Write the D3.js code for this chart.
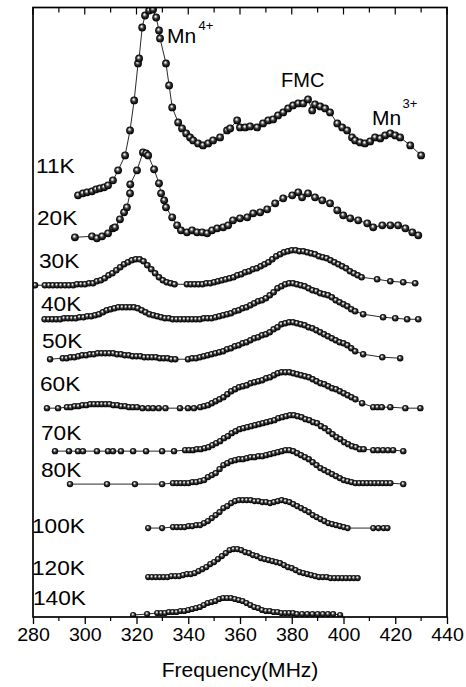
<!DOCTYPE html>
<html>
<head>
<meta charset="utf-8">
<script src="https://cdn.jsdelivr.net/npm/d3@7/dist/d3.min.js"></script>
<style>
body { margin: 0; background: #fff; }
svg { display: block; font-family: "Liberation Sans", Arial, sans-serif; }
</style>
</head>
<body>
<svg width="466" height="687"></svg>
<script>
const width = 466;
const height = 687;
const svg = d3.select("svg");

// temperatures, stacking offsets (a.u.) and spectra [frequency MHz, intensity a.u.]
const temps = ["11K", "20K", "30K", "40K", "50K", "60K", "70K", "80K", "100K", "120K", "140K"];
const offsets = [4.20, 3.80, 3.32, 2.98, 2.58, 2.09, 1.66, 1.33, 0.89, 0.39, 0.02];

const k11 = [[297.4,0.02],[299.3,0.04],[300.9,0.05],[302.8,0.06],[304.4,0.08],[305.9,0.09],[307.5,0.10],[309.0,0.12],[310.9,0.17],[312.9,0.27],[315.6,0.42],[317.5,0.67],[319.1,0.97],[320.6,1.34],[321.0,1.39],[322.2,1.70],[323.3,1.82],[324.9,1.87],[326.4,1.88],[327.6,1.80],[328.7,1.67],[329.1,1.59],[331.4,1.34],[332.6,1.12],[333.8,0.90],[336.1,0.75],[337.6,0.69],[339.2,0.64],[340.7,0.60],[341.9,0.57],[343.8,0.54],[345.7,0.52],[347.7,0.54],[349.6,0.57],[352.3,0.60],[355.0,0.67],[356.2,0.69],[358.9,0.77],[360.0,0.70],[362.0,0.70],[363.9,0.71],[366.6,0.70],[368.9,0.74],[370.9,0.77],[372.8,0.78],[374.7,0.82],[376.7,0.85],[378.6,0.89],[380.5,0.92],[382.5,0.94],[384.4,0.94],[386.3,0.98],[387.9,0.87],[389.0,0.93],[391.0,0.91],[392.9,0.89],[394.8,0.85],[397.6,0.74],[399.5,0.70],[401.4,0.67],[403.3,0.60],[404.5,0.57],[406.4,0.55],[408.3,0.54],[410.3,0.56],[412.2,0.60],[414.2,0.59],[416.1,0.62],[418.1,0.64],[420.0,0.62],[421.9,0.60],[425.8,0.52],[430.0,0.42]];

const k20 = [[296.2,0.00],[302.8,0.01],[304.7,-0.01],[306.7,0.01],[309.0,0.04],[310.9,0.09],[311.7,0.10],[313.6,0.18],[315.2,0.25],[316.3,0.30],[317.5,0.44],[317.6,0.53],[320.2,0.67],[322.5,0.85],[323.7,0.84],[324.5,0.82],[326.8,0.68],[328.7,0.54],[329.5,0.44],[330.7,0.37],[331.4,0.30],[333.8,0.20],[335.7,0.12],[337.2,0.07],[339.5,0.05],[341.5,0.07],[343.4,0.05],[345.4,0.05],[347.3,0.04],[349.2,0.07],[351.2,0.09],[353.5,0.10],[355.4,0.12],[357.3,0.17],[360.0,0.19],[362.8,0.20],[365.1,0.24],[367.8,0.25],[370.5,0.28],[373.6,0.34],[376.7,0.39],[380.2,0.42],[382.5,0.45],[384.0,0.40],[386.3,0.44],[389.0,0.40],[391.8,0.37],[394.8,0.34],[397.6,0.27],[399.9,0.22],[402.6,0.19],[405.7,0.17],[409.2,0.14],[411.5,0.10],[415.0,0.12],[418.1,0.12],[421.1,0.12],[423.9,0.09],[426.6,0.05],[428.9,0.02]];

const k30 = [[280.8,0],[284.6,0],[286.2,0],[287.7,0],[289.3,0],[290.8,0],[292.4,0],[293.9,0],[295.5,0],[297.0,0.01],[298.6,0.01],[300.1,0.01],[301.7,0.02],[303.2,0.02],[304.7,0.04],[306.2,0.05],[307.7,0.07],[309.2,0.10],[310.7,0.12],[312.2,0.15],[313.7,0.18],[315.2,0.21],[316.7,0.23],[318.2,0.25],[319.7,0.26],[321.2,0.26],[322.7,0.24],[324.2,0.20],[325.7,0.16],[327.2,0.12],[328.7,0.08],[330.2,0.05],[331.7,0.03],[333.2,0.02],[334.7,0.01],[339.5,0.01],[341.0,0.01],[342.5,0.01],[344.0,0.01],[345.5,0.01],[347.0,0.02],[348.5,0.02],[350.0,0.03],[351.5,0.04],[353.0,0.05],[354.5,0.06],[356.0,0.07],[357.5,0.08],[359.0,0.10],[360.5,0.11],[362.0,0.13],[363.5,0.14],[365.0,0.16],[366.5,0.17],[368.0,0.19],[369.5,0.21],[371.0,0.23],[372.5,0.26],[374.0,0.29],[375.5,0.31],[377.0,0.33],[378.5,0.34],[380.0,0.35],[381.5,0.35],[383.0,0.34],[384.5,0.34],[386.0,0.33],[387.5,0.32],[389.0,0.31],[390.5,0.29],[392.0,0.28],[393.5,0.27],[395.0,0.25],[396.5,0.23],[398.0,0.21],[399.5,0.19],[401.0,0.17],[402.5,0.14],[404.0,0.12],[405.5,0.10],[407.0,0.08],[413.0,0.06],[418.1,0.04],[423.1,0.03],[427.7,0.02]];

const k40 = [[284.5,0],[286.0,0],[287.5,0],[289.0,0],[290.5,0],[292.0,0.01],[293.5,0.01],[295.0,0.01],[296.5,0.01],[298.0,0.02],[299.5,0.02],[301.0,0.03],[302.5,0.03],[304.0,0.04],[305.5,0.05],[307.0,0.07],[308.5,0.09],[310.0,0.10],[311.5,0.11],[313.0,0.12],[314.5,0.12],[316.0,0.12],[317.5,0.12],[319.0,0.12],[320.5,0.11],[322.0,0.09],[323.5,0.07],[325.0,0.05],[326.5,0.04],[328.0,0.03],[329.5,0.02],[331.0,0.01],[332.5,0.01],[334.0,0],[335.5,0],[337.0,0],[338.5,0],[340.0,0],[341.5,0],[343.0,0],[344.5,0],[346.0,0.01],[347.5,0.01],[349.0,0.01],[350.5,0.02],[352.0,0.03],[353.5,0.04],[355.0,0.05],[356.5,0.06],[358.0,0.08],[359.5,0.09],[361.0,0.11],[362.5,0.12],[364.0,0.14],[365.5,0.16],[367.0,0.18],[368.5,0.19],[370.0,0.21],[371.5,0.24],[373.0,0.27],[374.5,0.31],[376.0,0.33],[377.5,0.35],[379.0,0.36],[380.5,0.36],[382.0,0.35],[383.5,0.34],[385.0,0.33],[386.5,0.31],[388.0,0.29],[389.5,0.28],[391.0,0.26],[392.5,0.25],[394.0,0.24],[395.5,0.22],[397.0,0.19],[398.5,0.17],[400.0,0.15],[401.5,0.13],[403.0,0.10],[404.5,0.08],[407.6,0.05],[415.3,0.02],[420.0,0.01],[424.6,0],[428.9,0]];

const k50 = [[286.6,0],[291.5,0.01],[293.0,0.01],[294.5,0.02],[296.0,0.02],[297.5,0.03],[299.0,0.04],[300.5,0.04],[302.0,0.05],[303.5,0.05],[305.0,0.06],[306.5,0.06],[308.0,0.06],[309.5,0.06],[311.0,0.06],[312.5,0.05],[314.0,0.05],[315.5,0.04],[317.0,0.04],[318.5,0.03],[320.0,0.03],[321.5,0.03],[323.0,0.02],[324.5,0.02],[326.0,0.02],[327.5,0.02],[329.0,0.01],[330.5,0.01],[332.0,0.01],[333.5,0],[335.0,0],[339.9,0],[341.5,0.01],[343.0,0.01],[344.5,0.02],[346.0,0.03],[347.5,0.04],[349.0,0.05],[350.5,0.06],[352.0,0.07],[353.5,0.08],[355.0,0.10],[356.5,0.11],[358.0,0.13],[359.5,0.14],[361.0,0.16],[362.5,0.17],[364.0,0.19],[365.5,0.21],[367.0,0.22],[368.5,0.24],[370.0,0.25],[371.5,0.27],[373.0,0.30],[374.5,0.32],[376.0,0.35],[377.5,0.36],[379.0,0.37],[380.5,0.37],[382.0,0.36],[383.5,0.35],[385.0,0.34],[386.5,0.32],[388.0,0.31],[389.5,0.29],[391.0,0.27],[392.5,0.25],[394.0,0.23],[395.5,0.21],[397.0,0.19],[398.5,0.17],[400.0,0.16],[401.5,0.14],[403.0,0.11],[404.5,0.08],[407.6,0.05],[415.0,0.02],[421.9,0.01]];

const k60 = [[285.4,0],[289.7,0],[293.1,0.01],[294.6,0.01],[296.1,0.02],[297.6,0.02],[299.1,0.03],[300.6,0.03],[302.1,0.04],[303.6,0.04],[305.1,0.04],[306.6,0.04],[308.1,0.04],[309.6,0.04],[311.1,0.03],[312.6,0.03],[314.1,0.02],[315.6,0.02],[317.1,0.01],[318.6,0.01],[320.2,0.01],[322.3,0],[324.5,0],[326.4,0],[328.6,0],[331.2,0],[336.8,0],[339.9,0],[342.2,0],[344.6,0.01],[346.1,0.02],[347.6,0.03],[349.1,0.05],[350.6,0.07],[352.1,0.09],[353.6,0.11],[355.1,0.14],[356.6,0.17],[358.1,0.19],[359.6,0.21],[361.1,0.22],[362.6,0.23],[364.1,0.25],[365.6,0.26],[367.1,0.27],[368.6,0.28],[370.1,0.30],[371.6,0.31],[373.1,0.33],[374.6,0.35],[376.1,0.36],[377.6,0.36],[379.1,0.36],[380.6,0.35],[382.1,0.34],[383.6,0.33],[385.1,0.32],[386.6,0.31],[388.1,0.29],[389.6,0.27],[391.1,0.25],[392.6,0.24],[394.1,0.22],[395.6,0.20],[397.1,0.19],[398.6,0.17],[400.1,0.15],[401.6,0.13],[403.1,0.11],[404.6,0.09],[407.2,0.05],[411.5,0.01],[413.1,0.01],[414.8,0.01],[418.1,0.01],[423.9,0],[429.7,0]];

const k70 = [[288.5,0],[293.9,0],[297.4,0],[299.3,0],[304.7,0],[309.0,0],[310.9,0],[314.0,0],[318.7,0],[323.7,0],[329.9,0],[334.5,0],[338.8,0.01],[340.3,0.01],[341.8,0.01],[343.3,0.02],[344.8,0.02],[346.3,0.03],[347.8,0.04],[349.3,0.06],[350.8,0.08],[352.3,0.10],[353.8,0.13],[355.3,0.15],[356.8,0.18],[358.3,0.20],[359.8,0.22],[361.3,0.23],[362.8,0.24],[364.3,0.25],[365.8,0.26],[367.3,0.27],[368.8,0.28],[370.3,0.29],[371.8,0.30],[373.3,0.31],[374.8,0.33],[376.3,0.34],[377.8,0.35],[379.3,0.36],[380.8,0.36],[382.3,0.35],[383.8,0.34],[385.3,0.32],[386.8,0.31],[388.3,0.29],[389.8,0.28],[391.3,0.25],[392.8,0.23],[394.3,0.20],[395.8,0.17],[397.3,0.14],[398.8,0.12],[400.3,0.09],[401.8,0.07],[403.3,0.05],[404.8,0.04],[406.3,0.02],[407.8,0.02],[411.5,0.01],[413.3,0.01],[415.3,0.01],[417.2,0.01],[419.2,0.01],[423.1,0]];

const k80 = [[294.3,0],[308.6,0],[319.4,0],[329.9,0],[334.1,0.01],[335.6,0.01],[337.1,0.01],[338.6,0.01],[340.1,0.01],[341.6,0.02],[343.1,0.02],[344.6,0.03],[346.1,0.04],[347.6,0.07],[349.1,0.09],[350.6,0.11],[352.1,0.15],[353.6,0.19],[355.1,0.21],[356.6,0.23],[358.1,0.24],[359.6,0.25],[361.1,0.25],[362.6,0.26],[364.1,0.27],[365.6,0.27],[367.1,0.28],[368.6,0.28],[370.1,0.29],[371.6,0.30],[373.1,0.31],[374.6,0.32],[376.1,0.33],[377.6,0.34],[379.1,0.34],[380.6,0.33],[382.1,0.31],[383.6,0.29],[385.1,0.27],[386.6,0.25],[388.1,0.22],[389.6,0.19],[391.1,0.16],[392.6,0.14],[394.1,0.12],[395.6,0.10],[397.1,0.08],[398.6,0.06],[400.1,0.04],[401.6,0.03],[403.1,0.02],[404.6,0.01],[406.1,0.01],[407.6,0.01],[409.1,0.01],[410.6,0.01],[412.1,0.01],[413.6,0.01],[415.1,0.01],[416.6,0.01],[418.1,0.01],[423.1,0]];

const k100 = [[324.5,0],[329.9,0],[334.1,0.01],[335.6,0.01],[337.1,0.01],[338.6,0.01],[340.1,0.02],[341.6,0.02],[343.1,0.03],[344.6,0.03],[346.1,0.05],[347.6,0.07],[349.1,0.10],[350.6,0.13],[352.1,0.16],[353.6,0.20],[355.1,0.22],[356.6,0.25],[358.1,0.27],[359.6,0.28],[361.1,0.28],[362.6,0.28],[364.1,0.28],[365.6,0.27],[367.1,0.27],[368.6,0.26],[370.1,0.26],[371.6,0.25],[373.1,0.26],[374.6,0.27],[376.1,0.28],[377.6,0.27],[379.1,0.26],[380.6,0.24],[382.1,0.22],[383.6,0.20],[385.1,0.18],[386.6,0.16],[388.1,0.13],[389.6,0.11],[391.1,0.09],[392.6,0.07],[394.1,0.05],[395.6,0.04],[397.1,0.03],[398.6,0.02],[400.1,0.01],[401.6,0],[411.5,0],[413.5,0],[415.5,0],[417.0,0]];

const k120 = [[324.5,0.01],[326.0,0.01],[327.5,0.01],[329.0,0.01],[330.5,0.01],[332.0,0.01],[333.5,0.02],[335.0,0.02],[336.5,0.02],[338.0,0.03],[339.5,0.04],[341.0,0.04],[342.5,0.05],[344.0,0.07],[345.5,0.09],[347.0,0.11],[348.5,0.14],[350.0,0.16],[351.5,0.19],[353.0,0.22],[354.5,0.25],[356.0,0.28],[357.5,0.29],[359.0,0.29],[360.5,0.28],[362.0,0.26],[363.5,0.25],[365.0,0.23],[366.5,0.22],[368.0,0.20],[369.5,0.19],[371.0,0.18],[372.5,0.17],[374.0,0.16],[375.5,0.15],[377.0,0.13],[378.5,0.11],[380.0,0.10],[381.5,0.08],[383.0,0.06],[384.5,0.05],[386.0,0.04],[387.5,0.03],[389.0,0.02],[390.5,0.01],[392.0,0.01],[393.5,0.01],[395.0,0],[396.5,0],[398.0,0],[399.5,0],[401.0,0],[402.5,0],[404.0,0],[405.5,0]];

const k140 = [[318.7,0],[324.1,0.01],[328.0,0.02],[329.5,0.02],[331.0,0.02],[332.5,0.03],[334.0,0.03],[335.5,0.03],[337.0,0.04],[338.5,0.04],[340.0,0.05],[341.5,0.06],[343.0,0.07],[344.5,0.08],[346.0,0.10],[347.5,0.12],[349.0,0.13],[350.5,0.14],[352.0,0.16],[353.5,0.17],[355.0,0.17],[356.5,0.17],[358.0,0.16],[359.5,0.15],[361.0,0.14],[362.5,0.12],[364.0,0.10],[365.5,0.08],[367.0,0.07],[368.5,0.05],[370.0,0.04],[371.5,0.04],[373.0,0.03],[374.5,0.03],[376.0,0.02],[377.5,0.02],[379.0,0.02],[380.5,0.02],[382.0,0.01],[384.0,0.01],[386.0,0.01],[388.0,0.01],[390.0,0.01],[392.0,0.01],[394.0,0.01],[396.0,0.01],[398.7,0]];

const spectra = [k11, k20, k30, k40, k50, k60, k70, k80, k100, k120, k140];
const majorTicks = [280, 300, 320, 340, 360, 380, 400, 420, 440];
const minorTicks = [290, 310, 330, 350, 370, 390, 410, 430];

// label layout: x in px, dy from the spectrum's baseline in px
const labelX = [36, 37, 39, 41, 42, 40, 41, 41, 32, 32, 33];
const labelDy = [-24, -12, -17, -8, -11, -17, -11, -7, 5, -3, -10];
const ballR = [3.9, 3.9, 3.3, 3.3, 3.2, 3.2, 3.2, 3.2, 3.1, 3.1, 3.1];

const plotL = 33, plotR = 447, plotT = 7.5, plotB = 617;
const x = d3.scaleLinear().domain([280, 440]).range([plotL, plotR]);
const y = d3.scaleLinear().domain([0, 6.1]).range([plotB, plotT]);

const defs = svg.append("defs");
const grad = defs.append("radialGradient")
    .attr("id", "ball")
    .attr("cx", "50%").attr("cy", "50%").attr("r", "50%")
    .attr("fx", "40%").attr("fy", "34%");
grad.append("stop").attr("offset", "0%").attr("stop-color", "#ffffff");
grad.append("stop").attr("offset", "18%").attr("stop-color", "#d8d8d8");
grad.append("stop").attr("offset", "45%").attr("stop-color", "#4a4a4a");
grad.append("stop").attr("offset", "75%").attr("stop-color", "#161616");
grad.append("stop").attr("offset", "100%").attr("stop-color", "#000000");

defs.append("clipPath").attr("id", "plot")
    .append("rect")
    .attr("x", plotL).attr("y", plotT)
    .attr("width", plotR - plotL).attr("height", plotB - plotT);

const plot = svg.append("g").attr("clip-path", "url(#plot)");

const line = d3.line()
    .x(d => x(d[0]))
    .y(d => y(d[1]));

spectra.forEach((pts, i) => {
    const off = offsets[i];
    const data = pts.map(p => [p[0], p[1] + off]);
    const g = plot.append("g");

    g.append("path")
        .datum(data)
        .attr("d", line)
        .attr("fill", "none")
        .attr("stroke", "#111")
        .attr("stroke-width", 0.9);

    g.selectAll("circle")
        .data(data)
        .enter()
        .append("circle")
        .attr("cx", d => x(d[0]))
        .attr("cy", d => y(d[1]))
        .attr("r", ballR[i])
        .attr("fill", "url(#ball)");
});

// temperature labels
svg.selectAll(".temp")
    .data(temps)
    .enter()
    .append("text")
    .attr("class", "temp")
    .attr("transform", (d, i) => `translate(${labelX[i]},${y(offsets[i]) + labelDy[i]}) scale(1.08,1)`)
    .attr("font-size", 21)
    .attr("fill", "#000")
    .text(d => d);

// peak annotations
function label(txt, px, py, size) {
    svg.append("text")
        .attr("x", px).attr("y", py)
        .attr("font-size", size)
        .attr("fill", "#000")
        .text(txt);
}
label("Mn", 167, 43, 21);
label("4+", 198.5, 30, 13);
label("FMC", 281, 87, 20);
label("Mn", 372, 125, 21);
label("3+", 402.5, 108, 13);

// frame
svg.append("rect")
    .attr("x", plotL).attr("y", plotT)
    .attr("width", plotR - plotL).attr("height", plotB - plotT)
    .attr("fill", "none")
    .attr("stroke", "#000")
    .attr("stroke-width", 1.7);

// bottom axis: ticks outward
const xAxis = d3.axisBottom(x).tickValues(majorTicks).tickSize(7).tickPadding(4).tickFormat(d3.format("d"));
const gx = svg.append("g").attr("transform", `translate(0,${plotB})`).call(xAxis);
gx.select(".domain").remove();
gx.selectAll(".tick line").attr("stroke", "#000").attr("stroke-width", 1.3);
gx.selectAll(".tick text")
    .attr("font-size", 18.5)
    .attr("font-family", "Liberation Sans, Arial, sans-serif")
    .attr("fill", "#000")
    .attr("transform", "scale(1.06,1)");

svg.append("g")
    .selectAll("line")
    .data(minorTicks)
    .enter()
    .append("line")
    .attr("x1", d => x(d)).attr("x2", d => x(d))
    .attr("y1", plotB).attr("y2", plotB + 4)
    .attr("stroke", "#000").attr("stroke-width", 1.2);

// top ticks: inward
svg.append("g")
    .selectAll("line")
    .data(majorTicks.concat(minorTicks))
    .enter()
    .append("line")
    .attr("x1", d => x(d)).attr("x2", d => x(d))
    .attr("y1", plotT).attr("y2", d => plotT + (d % 20 === 0 ? 7 : 5))
    .attr("stroke", "#000").attr("stroke-width", 1.2);

svg.append("text")
    .attr("transform", `translate(${(plotL + plotR) / 2},677) scale(1.08,1)`)
    .attr("text-anchor", "middle")
    .attr("font-size", 19.5)
    .attr("fill", "#000")
    .text("Frequency(MHz)");
</script>
</body>
</html>
